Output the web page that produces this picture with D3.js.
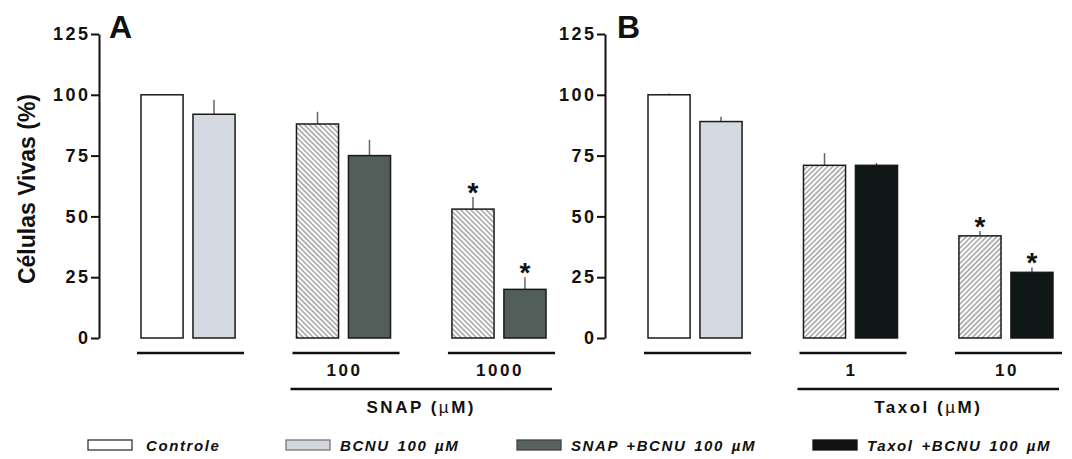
<!DOCTYPE html>
<html>
<head>
<meta charset="utf-8">
<script src="https://cdn.jsdelivr.net/npm/d3@7"></script>
<style>
  body { margin: 0; background: #fff; }
  svg text { font-family: "Liberation Sans", Arial, sans-serif; fill: #111; }
</style>
</head>
<body>
<script>
// data (% viable cells)
var groupsA = ["ctrl", "100", "1000"];
var groupLabelsA = ["", "100", "1000"];
var leftA = [100, 88, 53];      // Controle / SNAP 100 / SNAP 1000
var leftErrA = [0, 5, 5];
var rightA = [92, 75, 20];      // BCNU / SNAP+BCNU
var rightErrA = [6, 6.5, 5];
var starsA = [[0, 0], [0, 0], [1, 1]];

var groupsB = ["ctrl", "1", "10"];
var groupLabelsB = ["", "1", "10"];
var leftB = [100, 71, 42];      // Controle / Taxol 1 / Taxol 10
var leftErrB = [0.5, 5, 2];
var rightB = [89, 71, 27];      // BCNU / Taxol+BCNU
var rightErrB = [2, 1, 2];
var starsB = [[0, 0], [0, 0], [1, 1]];

var yTicks = [0, 25, 50, 75, 100, 125];
var legendLabels = ["Controle", "BCNU 100 \u00b5M", "SNAP +BCNU 100 \u00b5M", "Taxol +BCNU 100 \u00b5M"];

var width = 1072, height = 459;

var svg = d3.select("body").append("svg")
    .attr("width", width)
    .attr("height", height);

// hatch patterns
var defs = svg.append("defs");
function hatch(id, angle) {
    var p = defs.append("pattern")
        .attr("id", id)
        .attr("patternUnits", "userSpaceOnUse")
        .attr("width", 3.6).attr("height", 3.6)
        .attr("patternTransform", "rotate(" + angle + ")");
    p.append("rect").attr("width", 3.6).attr("height", 3.6).attr("fill", "#fff");
    p.append("line").attr("x1", 1).attr("y1", 0).attr("x2", 1).attr("y2", 3.6)
        .attr("stroke", "#929292").attr("stroke-width", 1.3);
}
hatch("hatchA", -45);
hatch("hatchB", 45);

var y = d3.scaleLinear().domain([0, 125]).range([338, 34]);

var drawPanel = function(opt) {
    var x = d3.scaleBand().domain(opt.groups).range(opt.range).paddingInner(0.395);
    var xs = d3.scaleBand().domain(["l", "r"]).range([0, x.bandwidth()]).paddingInner(0.19);

    // y axis
    var ax = svg.append("g")
        .attr("transform", "translate(" + opt.axisX + ",0)")
        .call(d3.axisLeft(y).tickValues(yTicks).tickSize(8).tickSizeOuter(0).tickPadding(3));
    ax.selectAll("path, line").attr("stroke", "#111").attr("stroke-width", 2);
    ax.selectAll("text")
        .style("font-family", "'Liberation Sans', Arial, sans-serif")
        .style("font-size", "18px").style("font-weight", "bold")
        .style("letter-spacing", "2.5px")
        .attr("dx", 2.5)
        .attr("fill", "#111");

    svg.append("text")
        .attr("x", opt.letterX).attr("y", 38)
        .style("font-size", "32px").style("font-weight", "bold")
        .text(opt.letter);

    var rows = opt.groups.map(function(g, i) {
        return [
            {g: g, side: "l", v: opt.left[i], e: opt.leftErr[i], star: opt.stars[i][0],
             fill: i == 0 ? "#fff" : "url(#" + opt.hatch + ")"},
            {g: g, side: "r", v: opt.right[i], e: opt.rightErr[i], star: opt.stars[i][1],
             fill: i == 0 ? "#d5d9e2" : opt.dark}
        ];
    });
    var bars = [].concat.apply([], rows);

    var bx = function(d) { return x(d.g) + xs(d.side); };

    // error bars (upper only)
    svg.selectAll(".err" + opt.letter)
        .data(bars.filter(function(d) { return d.e > 0; }))
        .enter().append("line")
        .attr("x1", function(d) { return bx(d) + xs.bandwidth() / 2; })
        .attr("x2", function(d) { return bx(d) + xs.bandwidth() / 2; })
        .attr("y1", function(d) { return y(d.v); })
        .attr("y2", function(d) { return y(d.v + d.e); })
        .attr("stroke", "#666").attr("stroke-width", 1.5);

    svg.selectAll(".bar" + opt.letter)
        .data(bars)
        .enter().append("rect")
        .attr("x", bx)
        .attr("y", function(d) { return y(d.v); })
        .attr("width", xs.bandwidth())
        .attr("height", function(d) { return y(0) - y(d.v); })
        .attr("fill", function(d) { return d.fill; })
        .attr("stroke", "#1a1a1a")
        .attr("stroke-width", 1.5);

    svg.selectAll(".star" + opt.letter)
        .data(bars.filter(function(d) { return d.star; }))
        .enter().append("text")
        .attr("x", function(d) { return bx(d) + xs.bandwidth() / 2; })
        .attr("y", function(d) { return y(d.v + d.e) + 5; })
        .attr("text-anchor", "middle")
        .style("font-size", "28px").style("font-weight", "bold")
        .text("*");

    // group underlines
    svg.selectAll(".under" + opt.letter)
        .data(opt.groups)
        .enter().append("line")
        .attr("x1", function(g) { return x(g) - 4; })
        .attr("x2", function(g) { return x(g) + x.bandwidth() + 9; })
        .attr("y1", 353).attr("y2", 353)
        .attr("stroke", "#111").attr("stroke-width", 2.5);

    svg.selectAll(".glab" + opt.letter)
        .data(opt.groups.slice(1))
        .enter().append("text")
        .attr("x", function(g) { return x(g) + x.bandwidth() / 2 + 1; })
        .attr("y", 376)
        .attr("text-anchor", "middle")
        .style("font-size", "17px").style("font-weight", "bold")
        .style("letter-spacing", "2.5px")
        .text(function(g, i) { return opt.groupLabels[i + 1]; });

    var g1 = opt.groups[1], g2 = opt.groups[2];
    svg.append("line")
        .attr("x1", x(g1) - 6).attr("x2", x(g2) + x.bandwidth() + 6)
        .attr("y1", 389).attr("y2", 389)
        .attr("stroke", "#111").attr("stroke-width", 2.5);

    var t = svg.append("text")
        .attr("x", (x(g1) + x(g2) + x.bandwidth()) / 2)
        .attr("y", 413)
        .attr("text-anchor", "middle")
        .style("font-size", "17px").style("font-weight", "bold")
        .style("letter-spacing", "2.5px");
    t.append("tspan").text(opt.drug + " (");
    t.append("tspan").style("font-weight", "normal").text("\u00b5");
    t.append("tspan").text("M)");
};

drawPanel({letter: "A", letterX: 109, axisX: 99, range: [141, 546], groups: groupsA,
    groupLabels: groupLabelsA, left: leftA, leftErr: leftErrA, right: rightA, rightErr: rightErrA,
    stars: starsA, hatch: "hatchA", dark: "#515e5a", drug: "SNAP"});
drawPanel({letter: "B", letterX: 617, axisX: 605, range: [648, 1053], groups: groupsB,
    groupLabels: groupLabelsB, left: leftB, leftErr: leftErrB, right: rightB, rightErr: rightErrB,
    stars: starsB, hatch: "hatchB", dark: "#0f1716", drug: "Taxol"});

// y axis title
svg.append("text")
    .attr("transform", "translate(35,189) rotate(-90)")
    .attr("text-anchor", "middle")
    .style("font-size", "23px").style("font-weight", "bold")
    .text("C\u00e9lulas Vivas (%)");

// legend
var legendX = [88, 286, 517, 813];
var legendFill = ["#fff", "#d3d6dc", "#58625f", "#111"];
var legendStroke = ["#333", "#777", "#444", "#111"];
var lg = svg.selectAll(".legend")
    .data(legendLabels)
    .enter().append("g")
    .attr("transform", function(d, i) { return "translate(" + legendX[i] + ",440)"; });
lg.append("rect")
    .attr("width", 44).attr("height", 10)
    .attr("fill", function(d, i) { return legendFill[i]; })
    .attr("stroke", function(d, i) { return legendStroke[i]; })
    .attr("stroke-width", 1.3);
lg.append("text")
    .attr("x", function(d, i) { return i == 0 ? 58 : 54; })
    .attr("y", 11)
    .style("font-size", "15px").style("font-weight", "bold").style("font-style", "italic")
    .style("letter-spacing", "1.6px")
    .style("word-spacing", "2px")
    .text(function(d) { return d; });
</script>
</body>
</html>
